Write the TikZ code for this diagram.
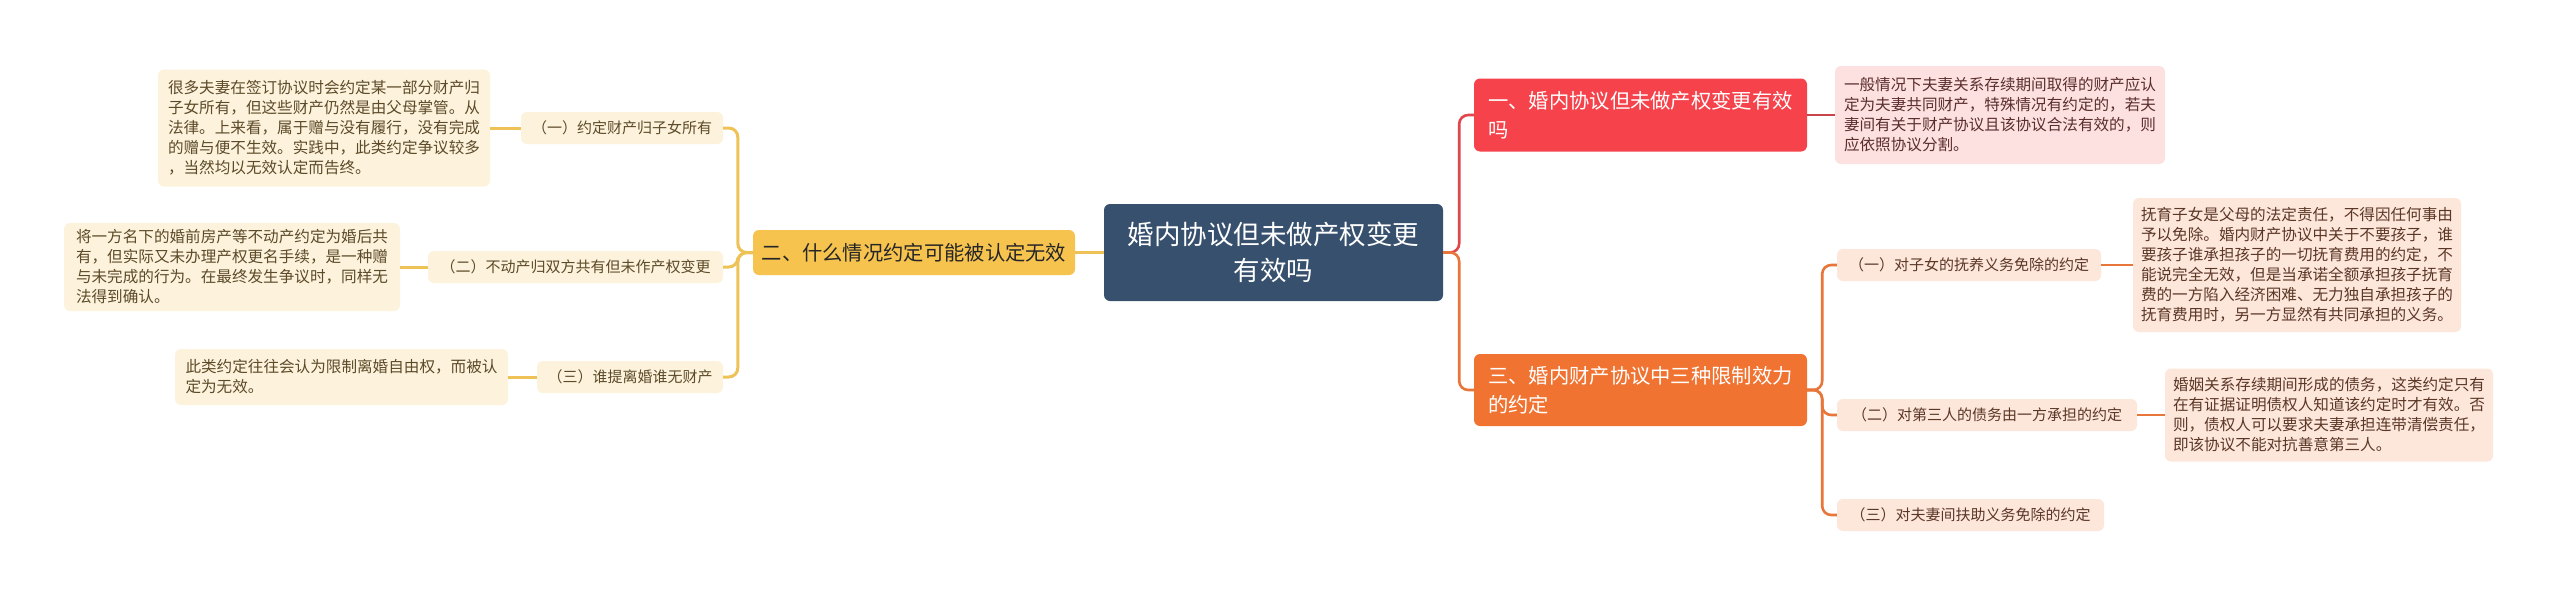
\documentclass[tikz,border=0pt]{standalone}
\usepackage{fontspec}
\setmainfont{Noto Sans CJK SC}
\definecolor{ctrc}{HTML}{37506D}
\definecolor{yelc}{HTML}{F6C34F}
\definecolor{yline}{HTML}{EFC257}
\definecolor{cream}{HTML}{FDF3DD}
\definecolor{ltext}{HTML}{5C4A28}
\definecolor{redc}{HTML}{F6434B}
\definecolor{rline}{HTML}{E0474C}
\definecolor{rlline}{HTML}{C9434A}
\definecolor{rfill}{HTML}{FDE1E0}
\definecolor{rtext}{HTML}{5A2E2E}
\definecolor{orc}{HTML}{F07331}
\definecolor{oline}{HTML}{E8763A}
\definecolor{ofill}{HTML}{FDE6DA}
\definecolor{otext}{HTML}{5B3726}
\begin{document}
\begin{tikzpicture}[x=1pt,y=-1pt,
  bx/.style={rounded corners=6pt, inner sep=0pt, align=left},
  ctr/.style={bx, fill=ctrc, text=white, align=center, font=\fontsize{26.5}{36}\selectfont},
  ybr/.style={bx, fill=yelc, text=black!85, font=\fontsize{20.3}{28}\selectfont},
  rbr/.style={bx, fill=redc, text=white, font=\fontsize{20.3}{29}\selectfont},
  obr/.style={bx, fill=orc, text=white, font=\fontsize{20.3}{29}\selectfont},
  lsub/.style={bx, fill=cream, text=ltext, font=\fontsize{15}{20}\selectfont},
  lleaf/.style={bx, fill=cream, text=ltext, font=\fontsize{15.6}{20}\selectfont},
  rleaf/.style={bx, fill=rfill, text=rtext, font=\fontsize{15.6}{20}\selectfont},
  osub/.style={bx, fill=ofill, text=otext, font=\fontsize{15}{20}\selectfont},
  oleaf/.style={bx, fill=ofill, text=otext, font=\fontsize{15.6}{20}\selectfont},
  yl/.style={draw=yline, line width=3pt, rounded corners=9pt},
  rl/.style={draw=rline, line width=2.6pt, rounded corners=9pt},
  rll/.style={draw=rlline, line width=2.6pt},
  ol/.style={draw=oline, line width=2.6pt, rounded corners=9pt}]
\useasboundingbox (0,0) rectangle (2560,600);
\fill[white] (0,0) rectangle (2560,600);

% center
\node[ctr, minimum width=339pt, minimum height=97pt] (c) at (1273.5,252.5) {婚内协议但未做产权变更\\有效吗};

% left branch
\node[ybr, minimum width=322pt, minimum height=45pt] (y) at (914,252.5) {二、什么情况约定可能被认定无效};
\node[lsub, minimum width=202pt, minimum height=32pt] (ls1) at (622,128) {（一）约定财产归子女所有};
\node[lsub, minimum width=295pt, minimum height=32pt] (ls2) at (575.5,267) {（二）不动产归双方共有但未作产权变更};
\node[lsub, minimum width=186pt, minimum height=32pt] (ls3) at (630,377) {（三）谁提离婚谁无财产};
\node[lleaf, minimum width=332pt, minimum height=117pt] (ll1) at (324,128) {很多夫妻在签订协议时会约定某一部分财产归\\子女所有，但这些财产仍然是由父母掌管。从\\法律。上来看，属于赠与没有履行，没有完成\\的赠与便不生效。实践中，此类约定争议较多\\，当然均以无效认定而告终。};
\node[lleaf, minimum width=336pt, minimum height=88pt] (ll2) at (232,267) {将一方名下的婚前房产等不动产约定为婚后共\\有，但实际又未办理产权更名手续，是一种赠\\与未完成的行为。在最终发生争议时，同样无\\法得到确认。};
\node[lleaf, minimum width=333pt, minimum height=56pt] (ll3) at (341.5,377) {此类约定往往会认为限制离婚自由权，而被认\\定为无效。};

% right branches
\node[rbr, minimum width=333pt, minimum height=73pt] (r1) at (1640.5,115) {一、婚内协议但未做产权变更有效\\吗};
\node[rleaf, minimum width=330pt, minimum height=98pt] (r1l) at (2000,115) {一般情况下夫妻关系存续期间取得的财产应认\\定为夫妻共同财产，特殊情况有约定的，若夫\\妻间有关于财产协议且该协议合法有效的，则\\应依照协议分割。};
\node[obr, minimum width=333pt, minimum height=72pt] (r3) at (1640.5,390) {三、婚内财产协议中三种限制效力\\的约定};
\node[osub, minimum width=264pt, minimum height=32pt] (os1) at (1969,265) {（一）对子女的抚养义务免除的约定};
\node[osub, minimum width=300pt, minimum height=32pt] (os2) at (1987,415) {（二）对第三人的债务由一方承担的约定};
\node[osub, minimum width=267pt, minimum height=32pt] (os3) at (1970.5,515) {（三）对夫妻间扶助义务免除的约定};
\node[oleaf, minimum width=328pt, minimum height=134pt] (ol1) at (2297,265) {抚育子女是父母的法定责任，不得因任何事由\\予以免除。婚内财产协议中关于不要孩子，谁\\要孩子谁承担孩子的一切抚育费用的约定，不\\能说完全无效，但是当承诺全额承担孩子抚育\\费的一方陷入经济困难、无力独自承担孩子的\\抚育费用时，另一方显然有共同承担的义务。};
\node[oleaf, minimum width=328pt, minimum height=93pt] (ol2) at (2329,415) {婚姻关系存续期间形成的债务，这类约定只有\\在有证据证明债权人知道该约定时才有效。否\\则，债权人可以要求夫妻承担连带清偿责任，\\即该协议不能对抗善意第三人。};

% connectors left
\begin{scope}[on background layer/.style={}]
\draw[yl] (c.west) -- (y.east);
\draw[yl] (y.west) -- ++(-15,0) |- (ls1.east);
\draw[yl] (y.west) -- ++(-15,0) |- (ls2.east);
\draw[yl] (y.west) -- ++(-15,0) |- (ls3.east);
\draw[yl] (ls1.west) -- (ll1.east);
\draw[yl] (ls2.west) -- (ll2.east);
\draw[yl] (ls3.west) -- (ll3.east);
% connectors right
\draw[rl] (c.east) -- ++(16,0) |- (r1.west);
\draw[ol] (c.east) -- ++(16,0) |- (r3.west);
\draw[rll] (r1.east) -- (r1l.west);
\draw[ol] (r3.east) -- ++(15,0) |- (os1.west);
\draw[ol] (r3.east) -- ++(15,0) |- (os2.west);
\draw[ol] (r3.east) -- ++(15,0) |- (os3.west);
\draw[ol] (os1.east) -- (ol1.west);
\draw[ol] (os2.east) -- (ol2.west);
\end{scope}
\end{tikzpicture}
\end{document}
